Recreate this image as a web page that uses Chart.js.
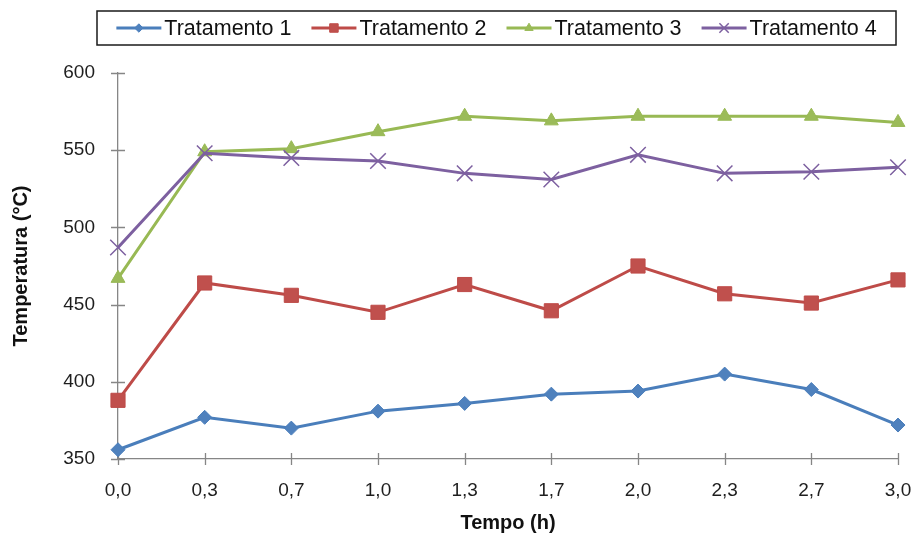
<!DOCTYPE html>
<html>
<head>
<meta charset="utf-8">
<script src="https://cdn.jsdelivr.net/npm/chart.js@4.4.1/dist/chart.umd.min.js"></script>
<style>
  html, body { margin: 0; padding: 0; background: #ffffff; }
  #wrap { width: 914px; height: 533px; }
</style>
</head>
<body>
<div id="wrap"><canvas id="chart" width="914" height="533"></canvas></div>
<script>
// Time points (h) and temperatures (°C) for each treatment
const tempos = ['0,0', '0,3', '0,7', '1,0', '1,3', '1,7', '2,0', '2,3', '2,7', '3,0'];
const tratamento1 = [356, 377, 370, 381, 386, 392, 394, 405, 395, 372];
const tratamento2 = [388, 464, 456, 445, 463, 446, 475, 457, 451, 466];
const tratamento3 = [467, 549, 551, 562, 572, 569, 572, 572, 572, 568];
const tratamento4 = [487, 548, 545, 543, 535, 531, 547, 535, 536, 539];
const yTicks = [350, 400, 450, 500, 550, 600];
const seriesNames = ['Tratamento 1', 'Tratamento 2', 'Tratamento 3', 'Tratamento 4'];

const AXIS_GREY = '#868686';
const TEXT_FONT = '"Liberation Sans", Arial, sans-serif';

// Cross-shaped tick marks on both axes and a boxed legend with line + marker samples
const frame = {
  id: 'frame',
  beforeDatasetsDraw(chart) {
    const { ctx, scales: { x, y } } = chart;
    ctx.save();
    ctx.strokeStyle = AXIS_GREY;
    ctx.lineWidth = 1.3;
    ctx.beginPath();
    y.ticks.forEach((t, i) => {
      const py = Math.round(y.getPixelForTick(i)) + 0.5;
      ctx.moveTo(x.left - 7, py);
      ctx.lineTo(x.left + 7, py);
    });
    x.ticks.forEach((t, i) => {
      const px = Math.round(x.getPixelForTick(i)) + 0.5;
      ctx.moveTo(px, y.bottom - 6);
      ctx.lineTo(px, y.bottom + 6);
    });
    ctx.stroke();
    ctx.restore();
  },
  afterDraw(chart) {
    const { ctx } = chart;
    const box = { l: 97, t: 11, r: 896, b: 45 };
    ctx.save();
    ctx.strokeStyle = '#1a1a1a';
    ctx.lineWidth = 1.5;
    ctx.strokeRect(box.l, box.t, box.r - box.l, box.b - box.t);

    ctx.font = '21.5px ' + TEXT_FONT;
    const lineLen = 45, gap = 3, itemGap = 20;
    const dsets = chart.data.datasets;
    const widths = dsets.map(d => lineLen + gap + ctx.measureText(d.label).width);
    const total = widths.reduce((a, b) => a + b, 0) + itemGap * (dsets.length - 1);
    let xPos = (box.l + box.r) / 2 - total / 2;
    const cy = (box.t + box.b) / 2;
    dsets.forEach((d, i) => {
      ctx.strokeStyle = d.borderColor;
      ctx.lineWidth = 3;
      ctx.beginPath();
      ctx.moveTo(xPos, cy);
      ctx.lineTo(xPos + lineLen, cy);
      ctx.stroke();
      ctx.fillStyle = d.pointBackgroundColor;
      ctx.strokeStyle = d.pointBorderColor;
      ctx.lineWidth = d.pointBorderWidth;
      Chart.helpers.drawPoint(ctx, {
        pointStyle: d.pointStyle,
        radius: d.pointRadius * 0.6,
        rotation: 0,
        borderWidth: d.pointBorderWidth
      }, xPos + lineLen / 2, cy);
      ctx.fillStyle = '#111111';
      ctx.textBaseline = 'middle';
      ctx.textAlign = 'left';
      ctx.fillText(d.label, xPos + lineLen + gap, cy + 1);
      xPos += widths[i] + itemGap;
    });
    ctx.restore();
  }
};

const makeSeries = (label, data, line, fill, style, radius, pbw, order) => ({
  label, data, order,
  borderColor: line,
  backgroundColor: fill,
  borderWidth: 3,
  tension: 0,
  pointStyle: style,
  pointRadius: radius,
  pointHoverRadius: radius,
  pointBackgroundColor: fill,
  pointBorderColor: line,
  pointBorderWidth: pbw
});

new Chart(document.getElementById('chart'), {
  type: 'line',
  data: {
    labels: tempos,
    datasets: [
      makeSeries(seriesNames[0], tratamento1, '#4A7EBB', '#4F81BD', 'rectRot', 7, 1, 4),
      makeSeries(seriesNames[1], tratamento2, '#BE4B48', '#C0504D', 'rect', 10, 1, 3),
      makeSeries(seriesNames[2], tratamento3, '#98B954', '#9BBB59', 'triangle', 8, 1, 2),
      makeSeries(seriesNames[3], tratamento4, '#7D60A0', '#8064A2', 'crossRot', 11, 1.5, 1)
    ]
  },
  options: {
    responsive: false,
    animation: false,
    devicePixelRatio: 1,
    layout: { padding: { top: 73, right: 0, bottom: 0, left: 0 } },
    plugins: {
      legend: { display: false },
      tooltip: { enabled: false }
    },
    scales: {
      x: {
        type: 'category',
        offset: false,
        grid: { display: false },
        border: { display: true, color: AXIS_GREY, width: 1.3 },
        ticks: {
          color: '#1e1e1e',
          font: { family: TEXT_FONT, size: 19 },
          padding: 12,
          maxRotation: 0,
          autoSkip: false
        },
        title: {
          display: true,
          text: 'Tempo (h)',
          color: '#111111',
          font: { family: TEXT_FONT, size: 20, weight: 'bold', lineHeight: 1.0 },
          padding: { top: 0, bottom: 0 }
        },
        afterFit(scale) {
          scale.height = 74;
          scale.paddingLeft = 0;
          scale.paddingRight = 16;
        }
      },
      y: {
        min: 350,
        max: 600,
        grid: { display: false },
        border: { display: true, color: AXIS_GREY, width: 1.3 },
        afterBuildTicks(scale) { scale.ticks = yTicks.map(v => ({ value: v })); },
        ticks: {
          color: '#1e1e1e',
          font: { family: TEXT_FONT, size: 19 },
          padding: 15
        },
        title: {
          display: true,
          text: 'Temperatura (°C)',
          color: '#111111',
          font: { family: TEXT_FONT, size: 20, weight: 'bold' },
          padding: { top: 9, bottom: 0 }
        },
        afterFit(scale) { scale.width = 118; }
      }
    }
  },
  plugins: [frame]
});
</script>
</body>
</html>
